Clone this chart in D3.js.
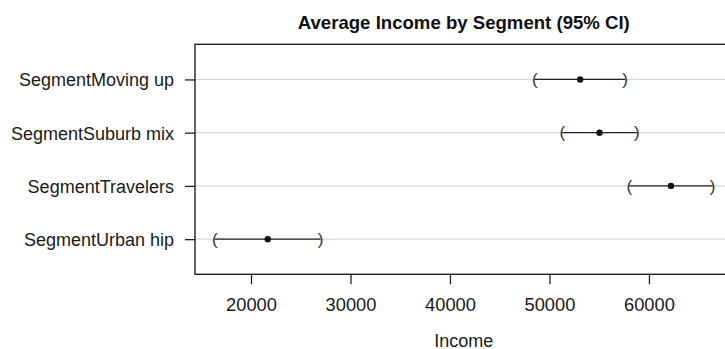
<!DOCTYPE html>
<html>
<head>
<meta charset="utf-8">
<script src="https://cdn.jsdelivr.net/npm/d3@7"></script>
<style>
  html, body { margin: 0; padding: 0; background: #fff; }
  svg { display: block; font-family: "Liberation Sans", Arial, Helvetica, sans-serif; }
</style>
</head>
<body>
<svg id="chart" width="725" height="349"></svg>
<script>
// Segment means of income with 95% confidence limits
const segments = ["SegmentMoving up", "SegmentSuburb mix", "SegmentTravelers", "SegmentUrban hip"];
const estimates = [53091, 55034, 62214, 21682];
const lower = [48520, 51300, 58040, 16370];
const upper = [57600, 58780, 66410, 26990];
const xTicks = [20000, 30000, 40000, 50000, 60000];

const title = "Average Income by Segment (95% CI)";
const xLabel = "Income";

const svg = d3.select("#chart");
const plot = { left: 195, right: 732.6, top: 44.3, bottom: 274.3 };

const x = d3.scaleLinear().domain([14370, 68410]).range([plot.left, plot.right]);
const y = d3.scaleLinear().domain([-0.66, segments.length - 1 + 0.66]).range([plot.top, plot.bottom]);

// light horizontal guides at each segment row
svg.append("g").selectAll("line").data(segments).join("line")
  .attr("x1", plot.left).attr("x2", plot.right)
  .attr("y1", (d, i) => y(i)).attr("y2", (d, i) => y(i))
  .attr("stroke", "#d9d9d9").attr("stroke-width", 1.2);

// x axis
const xAxis = d3.axisBottom(x).tickValues(xTicks).tickFormat(d3.format("d")).tickSize(10).tickPadding(14);
const gx = svg.append("g").attr("transform", `translate(0,${plot.bottom})`).call(xAxis);
gx.select(".domain").remove();
gx.selectAll(".tick line").attr("stroke", "#222").attr("stroke-width", 1.3);
gx.selectAll(".tick text").attr("font-size", 18.3).attr("fill", "#1a1a1a")
  .attr("font-family", "Liberation Sans, Arial, sans-serif");

// y axis with segment names
const yAxis = d3.axisLeft(y).tickValues(d3.range(segments.length)).tickFormat(i => segments[i]).tickSize(10).tickPadding(11);
const gy = svg.append("g").attr("transform", `translate(${plot.left},0)`).call(yAxis);
gy.select(".domain").remove();
gy.selectAll(".tick line").attr("stroke", "#222").attr("stroke-width", 1.3);
gy.selectAll(".tick text").attr("font-size", 18).attr("fill", "#1a1a1a").attr("dy", "0.36em")
  .attr("font-family", "Liberation Sans, Arial, sans-serif");

// plot frame
svg.append("rect")
  .attr("x", plot.left).attr("y", plot.top)
  .attr("width", plot.right - plot.left).attr("height", plot.bottom - plot.top)
  .attr("fill", "none").attr("stroke", "#222").attr("stroke-width", 1.4);

// confidence interval segments
const rows = segments.map((s, i) => ({ s, i, est: estimates[i], lo: lower[i], hi: upper[i] }));
const ci = svg.append("g");
ci.selectAll("line.ci").data(rows).join("line").attr("class", "ci")
  .attr("x1", d => x(d.lo)).attr("x2", d => x(d.hi))
  .attr("y1", d => y(d.i)).attr("y2", d => y(d.i))
  .attr("stroke", "#222").attr("stroke-width", 1.3);

// bracket end markers
ci.selectAll("text.lo").data(rows).join("text").attr("class", "lo")
  .attr("x", d => x(d.lo)).attr("y", d => y(d.i))
  .attr("dy", "0.33em").attr("text-anchor", "middle")
  .attr("font-size", 17).attr("fill", "#333").text("(");
ci.selectAll("text.hi").data(rows).join("text").attr("class", "hi")
  .attr("x", d => x(d.hi)).attr("y", d => y(d.i))
  .attr("dy", "0.33em").attr("text-anchor", "middle")
  .attr("font-size", 17).attr("fill", "#333").text(")");

// point estimates
ci.selectAll("circle").data(rows).join("circle")
  .attr("cx", d => x(d.est)).attr("cy", d => y(d.i)).attr("r", 3.2)
  .attr("fill", "#111");

// title and axis label
svg.append("text").attr("x", (plot.left + plot.right) / 2).attr("y", 29)
  .attr("text-anchor", "middle").attr("font-size", 18.6).attr("font-weight", "bold")
  .attr("fill", "#111").text(title);
svg.append("text").attr("x", (plot.left + plot.right) / 2).attr("y", 346.5)
  .attr("text-anchor", "middle").attr("font-size", 18).attr("fill", "#1a1a1a").text(xLabel);
</script>
</body>
</html>
